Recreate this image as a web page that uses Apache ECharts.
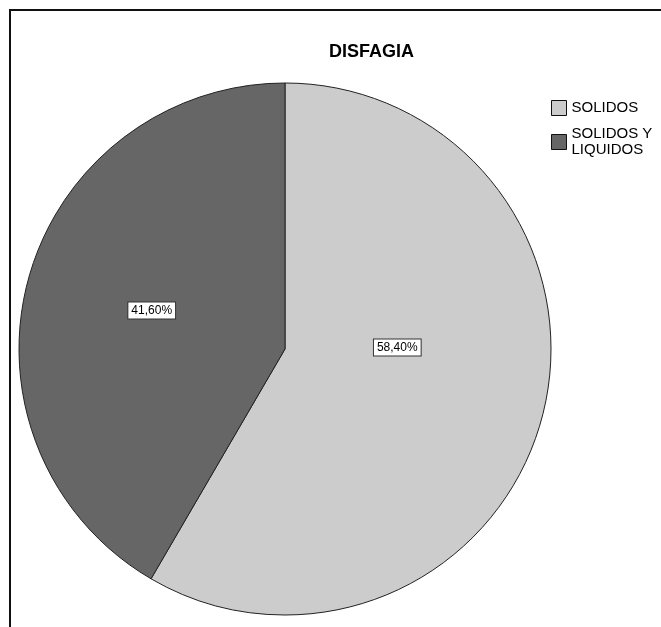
<!DOCTYPE html>
<html lang="es">
<head>
    <meta charset="UTF-8">
    <title>DISFAGIA</title>
    <script src="https://cdn.jsdelivr.net/npm/echarts@6/dist/echarts.min.js"></script>
    <style>
        html, body { margin: 0; padding: 0; background: #fff; }
        #main { width: 661px; height: 627px; }
    </style>
</head>
<body>
<div id="main"></div>
<script type="text/javascript">
    // datos del grafico
    var categorias = ['SOLIDOS', 'SOLIDOS Y\nLIQUIDOS'];
    var porcentajes = [58.4, 41.6];
    var colores = ['#cccccc', '#666666'];
    // desplazamiento de las etiquetas respecto al centro del sector
    var desplazamientos = [[-19, -37], [-2, -3]];

    var myChart = echarts.init(document.getElementById('main'));
    var font = '"Liberation Sans", Arial, sans-serif';

    var datos = [];
    for (var i = 0; i < categorias.length; i++) {
        datos.push({
            name: categorias[i],
            value: porcentajes[i],
            itemStyle: { color: colores[i] },
            label: { offset: desplazamientos[i] }
        });
    }

    var option = {
        backgroundColor: '#ffffff',
        animation: false,
        title: {
            text: 'DISFAGIA',
            left: 329,
            top: 43,
            padding: 0,
            textStyle: { fontFamily: font, fontSize: 18, fontWeight: 'bold', color: '#000' }
        },
        legend: {
            orient: 'vertical',
            left: 551,
            top: 100,
            padding: 0,
            itemWidth: 15,
            itemHeight: 15,
            itemGap: 10,
            icon: 'rect',
            textStyle: { fontFamily: font, fontSize: 15, lineHeight: 16, color: '#000' },
            itemStyle: { borderColor: '#111', borderWidth: 1 },
            data: categorias
        },
        // marco
        graphic: [{
            type: 'rect',
            shape: { x: 10, y: 10, width: 800, height: 800 },
            style: { fill: null, stroke: '#111', lineWidth: 2 },
            silent: true
        }],
        series: [{
            name: 'DISFAGIA',
            type: 'pie',
            center: [285, 349],
            radius: 266,
            startAngle: 90,
            clockwise: true,
            avoidLabelOverlap: false,
            itemStyle: { borderColor: '#222', borderWidth: 1 },
            emphasis: { disabled: true },
            label: {
                show: true,
                position: 'inside',
                formatter: function (p) {
                    return p.value.toFixed(2).replace('.', ',') + '%';
                },
                fontFamily: font,
                fontSize: 12,
                color: '#000',
                backgroundColor: '#fff',
                borderColor: '#333',
                borderWidth: 1,
                padding: [2, 3]
            },
            labelLine: { show: false },
            data: datos
        }]
    };
    myChart.setOption(option);
</script>
</body>
</html>
